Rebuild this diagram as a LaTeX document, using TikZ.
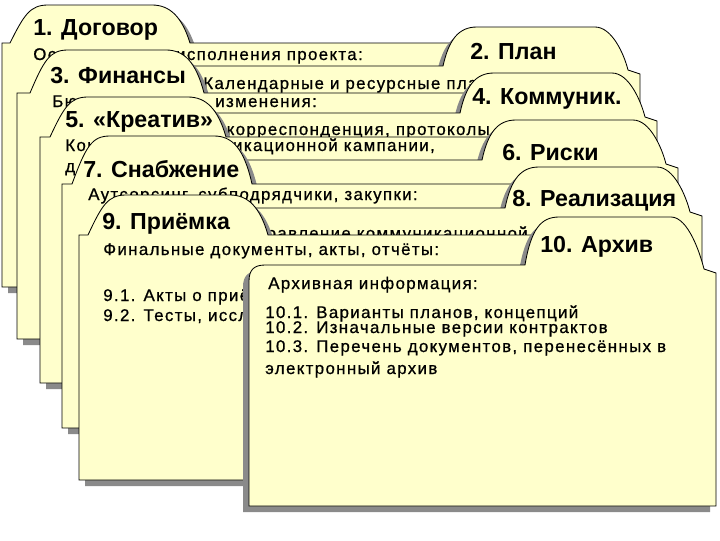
\documentclass[tikz,border=0pt]{standalone}
\usepackage{fontspec}
\setmainfont{Liberation Sans}
\newfontfamily\notefont[LetterSpace=8,FakeBold=0.8]{Liberation Sans}
\usepackage{xcolor}
\usepackage{tikz}
\usetikzlibrary{positioning}

\definecolor{paper}{HTML}{FFFFCC}
\definecolor{shade}{HTML}{8A8A8A}

\newcommand{\oddfolder}[8]{%
  \path[#1] (#2,#5) -- (#2,#3) -- (#6,#3)
    .. controls (#6+14,#8+10) and (#6+20,#8) .. (#6+38,#8)
    -- (#7-38,#8)
    .. controls (#7-20,#8) and (#7-8,#8+12) .. (#7,#3)
    -- (#4,#3) -- (#4,#5) -- cycle;}
\newcommand{\evenfolder}[7]{%
  \path[#1] (#2,#5) -- (#2,#3+16) .. controls (#2,#3+5) and (#2+5,#3) .. (#2+16,#3)
    -- (#6,#3)
    .. controls (#6+6,#7+12) and (#6+16,#7) .. (#6+34,#7)
    -- (#4-45,#7)
    .. controls (#4-28,#7) and (#4-16,#3-12) .. (#4-12,#3+4)
    -- (#4,#3+8) -- (#4,#5) -- cycle;}

\begin{document}
\begin{tikzpicture}[
            x=0.025cm, y=-0.025cm,
            folder/.style={fill=paper, draw=black, line width=0.6pt},
            oddshadow/.style={fill=shade, shift={(6,6)}},
            evenshadow/.style={fill=shade, shift={(-6,6)}},
            title/.style={anchor=base west, inner sep=0pt, font=\fontsize{16.5}{18}\selectfont\bfseries},
            note/.style={anchor=base west, inner sep=0pt, font=\notefont\fontsize{12}{14}\selectfont}
        ]
        \useasboundingbox (0,0) rectangle (720,540);

        \oddfolder{oddshadow}{2}{43}{560}{287}{10}{190}{5}
        \oddfolder{folder}{2}{43}{560}{287}{10}{190}{5}
        \node[title] (contract) at (33,35) {1. Договор};
        \node[note] (contractnote) at (33,60) {Основания};
        \node[note, anchor=base east] (contractnote2) at (363,60) {исполнения проекта:};

        \evenfolder{evenshadow}{120}{66}{640}{330}{443}{27}
        \evenfolder{folder}{120}{66}{640}{330}{443}{27}
        \node[title] (plan) at (470,59) {2. План};
        \node[note] (plannote) at (203,89) {Календарные и ресурсные планы};

        \oddfolder{oddshadow}{17}{93}{570}{339}{30}{204}{50}
        \oddfolder{folder}{17}{93}{570}{339}{30}{204}{50}
        \node[title] (finance) at (50,83) {3. Финансы};
        \node[note] (financenote) at (52,107) {Бюджет};
        \node[note] (financenote2) at (215,107) {изменения:};

        \evenfolder{evenshadow}{130}{113}{657}{375}{460}{73}
        \evenfolder{folder}{130}{113}{657}{375}{460}{73}
        \node[title] (comms) at (472,104) {4. Коммуник.};
        \node[note, anchor=base east] (commsnote) at (490,135) {корреспонденция, протоколы};

        \oddfolder{oddshadow}{40}{137}{590}{383}{50}{226}{97}
        \oddfolder{folder}{40}{137}{590}{383}{50}{226}{97}
        \node[title] (creative) at (65,127) {5. «Креатив»};
        \node[note] (creativenote) at (65,151) {Концепция коммуникационной кампании,};
        \node[note] (creativenote2) at (65,172) {д};

        \evenfolder{evenshadow}{150}{160}{678}{420}{482}{120}
        \evenfolder{folder}{150}{160}{678}{420}{482}{120}
        \node[title] (risks) at (502,160) {6. Риски};

        \oddfolder{oddshadow}{62}{184}{610}{428}{72}{252}{136}
        \oddfolder{folder}{62}{184}{610}{428}{72}{252}{136}
        \node[title] (supply) at (83,177) {7. Снабжение};
        \node[note] (supplynote) at (88,200) {Аутсорсинг, субподрядчики, закупки:};

        \evenfolder{evenshadow}{160}{208}{702}{470}{505}{167}
        \evenfolder{folder}{160}{208}{702}{470}{505}{167}
        \node[title] (launch) at (512,206) {8. Реализация};
        \node[note, anchor=base east] (launchnote) at (528,239) {управление коммуникационной};

        \oddfolder{oddshadow}{79}{235}{620}{480}{88}{268}{195}
        \oddfolder{folder}{79}{235}{620}{480}{88}{268}{195}
        \node[title] (accept) at (102,229) {9. Приёмка};
        \node[note] (acceptnote) at (103,255) {Финальные документы, акты, отчёты:};
        \node[note] (accept1) at (103,301) {9.1. Акты о приё};
        \node[note] (accept2) at (103,321) {9.2. Тесты, иссл};

        \evenfolder{evenshadow}{249}{265}{716}{506}{525}{217}
        \evenfolder{folder}{249}{265}{716}{506}{525}{217}
        \node[title] (archive) at (540,252) {10. Архив};
        \node[note] (archivenote) at (268,289) {Архивная информация:};
        \node[note] (archive1) at (265,318) {10.1. Варианты планов, концепций};
        \node[note] (archive2) at (265,333) {10.2. Изначальные версии контрактов};
        \node[note] (archive3) at (265,352) {10.3. Перечень документов, перенесённых в};
        \node[note] (archive4) at (265,374) {электронный архив};

    \end{tikzpicture}
\end{document}
